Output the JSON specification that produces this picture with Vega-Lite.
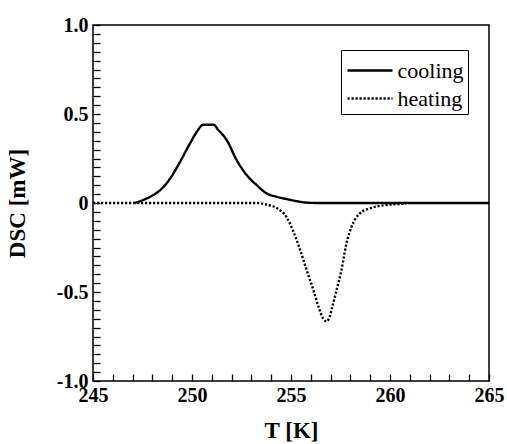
{
  "$schema": "https://vega.github.io/schema/vega-lite/v6.json",
  "width": 396,
  "height": 356,
  "autosize": {"type": "none"},
  "padding": {"left": 93, "top": 25, "right": 18, "bottom": 63},
  "data": {
    "values": [
      {"T": 247.1, "DSC": 0, "series": "cooling"},
      {"T": 247.6, "DSC": 0.02, "series": "cooling"},
      {"T": 248.05, "DSC": 0.045, "series": "cooling"},
      {"T": 248.47, "DSC": 0.08, "series": "cooling"},
      {"T": 248.97, "DSC": 0.15, "series": "cooling"},
      {"T": 249.39, "DSC": 0.23, "series": "cooling"},
      {"T": 249.9, "DSC": 0.335, "series": "cooling"},
      {"T": 250.24, "DSC": 0.4, "series": "cooling"},
      {"T": 250.57, "DSC": 0.44, "series": "cooling"},
      {"T": 251.08, "DSC": 0.44, "series": "cooling"},
      {"T": 251.33, "DSC": 0.41, "series": "cooling"},
      {"T": 251.75, "DSC": 0.354, "series": "cooling"},
      {"T": 252.26, "DSC": 0.24, "series": "cooling"},
      {"T": 252.76, "DSC": 0.157, "series": "cooling"},
      {"T": 253.27, "DSC": 0.1, "series": "cooling"},
      {"T": 253.77, "DSC": 0.054, "series": "cooling"},
      {"T": 254.28, "DSC": 0.035, "series": "cooling"},
      {"T": 254.86, "DSC": 0.02, "series": "cooling"},
      {"T": 255.3, "DSC": 0.01, "series": "cooling"},
      {"T": 255.8, "DSC": 0.002, "series": "cooling"},
      {"T": 256.5, "DSC": 0, "series": "cooling"},
      {"T": 265, "DSC": 0, "series": "cooling"},
      {"T": 245, "DSC": 0, "series": "heating"},
      {"T": 253.3, "DSC": 0, "series": "heating"},
      {"T": 253.8, "DSC": -0.01, "series": "heating"},
      {"T": 254.3, "DSC": -0.03, "series": "heating"},
      {"T": 254.78, "DSC": -0.08, "series": "heating"},
      {"T": 255.12, "DSC": -0.16, "series": "heating"},
      {"T": 255.45, "DSC": -0.26, "series": "heating"},
      {"T": 255.79, "DSC": -0.376, "series": "heating"},
      {"T": 256.13, "DSC": -0.489, "series": "heating"},
      {"T": 256.38, "DSC": -0.58, "series": "heating"},
      {"T": 256.63, "DSC": -0.65, "series": "heating"},
      {"T": 256.8, "DSC": -0.665, "series": "heating"},
      {"T": 256.95, "DSC": -0.64, "series": "heating"},
      {"T": 257.05, "DSC": -0.6, "series": "heating"},
      {"T": 257.3, "DSC": -0.49, "series": "heating"},
      {"T": 257.55, "DSC": -0.376, "series": "heating"},
      {"T": 257.8, "DSC": -0.227, "series": "heating"},
      {"T": 258.06, "DSC": -0.133, "series": "heating"},
      {"T": 258.48, "DSC": -0.058, "series": "heating"},
      {"T": 258.99, "DSC": -0.03, "series": "heating"},
      {"T": 259.83, "DSC": -0.011, "series": "heating"},
      {"T": 260.8, "DSC": -0.004, "series": "heating"}
    ]
  },
  "mark": {"type": "line", "color": "black", "strokeWidth": 2.4, "interpolate": "monotone", "strokeCap": "butt"},
  "encoding": {
    "x": {"field": "T", "type": "quantitative", "scale": {"domain": [245, 265], "nice": false, "zero": false},
      "axis": {"orient": "bottom", "values": [245, 246, 247, 248, 249, 250, 251, 252, 253, 254, 255, 256, 257, 258, 259, 260, 261, 262, 263, 264, 265],
        "labelExpr": "datum.value % 5 === 0 ? datum.label : ''",
        "offset": -7, "tickSize": 7, "tickColor": "black", "tickWidth": 1.3, "domain": false, "grid": false,
        "labelPadding": 4, "labelFlush": false, "labelOverlap": false, "title": "T [K]", "titlePadding": 14}},
    "y": {"field": "DSC", "type": "quantitative", "scale": {"domain": [-1, 1], "nice": false, "zero": false},
      "axis": {"orient": "left", "values": [-1, -0.95, -0.9, -0.85, -0.8, -0.75, -0.7, -0.65, -0.6, -0.55, -0.5, -0.45, -0.4, -0.35, -0.3, -0.25, -0.2, -0.15, -0.1, -0.05, 0, 0.05, 0.1, 0.15, 0.2, 0.25, 0.3, 0.35, 0.4, 0.45, 0.5, 0.55, 0.6, 0.65, 0.7, 0.75, 0.8, 0.85, 0.9, 0.95, 1],
        "offset": -7, "tickSize": 7, "tickColor": "black", "tickWidth": 1.3, "domain": false, "grid": false,
        "labelPadding": 5, "labelFlush": false, "labelOverlap": false,
        "labelExpr": "abs(datum.value * 2 - round(datum.value * 2)) > 0.001 ? '' : (datum.value === 0 ? '0' : (datum.value < 0 ? '-' : '') + format(abs(datum.value), '.1f'))",
        "title": "DSC [mW]", "titlePadding": 27}},
    "strokeDash": {"field": "series", "type": "nominal",
      "scale": {"domain": ["cooling", "heating"], "range": [[1, 0], [2.2, 1.8]]},
      "legend": {"orient": "none", "legendX": 248, "legendY": 25, "title": null, "strokeColor": "black", "padding": 4, "cornerRadius": 0,
        "labelFont": "Liberation Serif", "labelFontSize": 22, "labelColor": "black", "labelOffset": 11,
        "symbolType": "M-1.5,0H1.5", "symbolSize": 900, "symbolOffset": 8.5, "symbolStrokeWidth": 2.5, "symbolStrokeColor": "black", "rowPadding": 0}}
  },
  "config": {
    "view": {"stroke": "black", "strokeWidth": 1.5},
    "axis": {
      "labelFont": "Liberation Serif", "labelFontWeight": "bold", "labelFontSize": 20, "labelColor": "black",
      "titleFont": "Liberation Serif", "titleFontWeight": "bold", "titleFontSize": 23, "titleColor": "black"
    }
  }
}
